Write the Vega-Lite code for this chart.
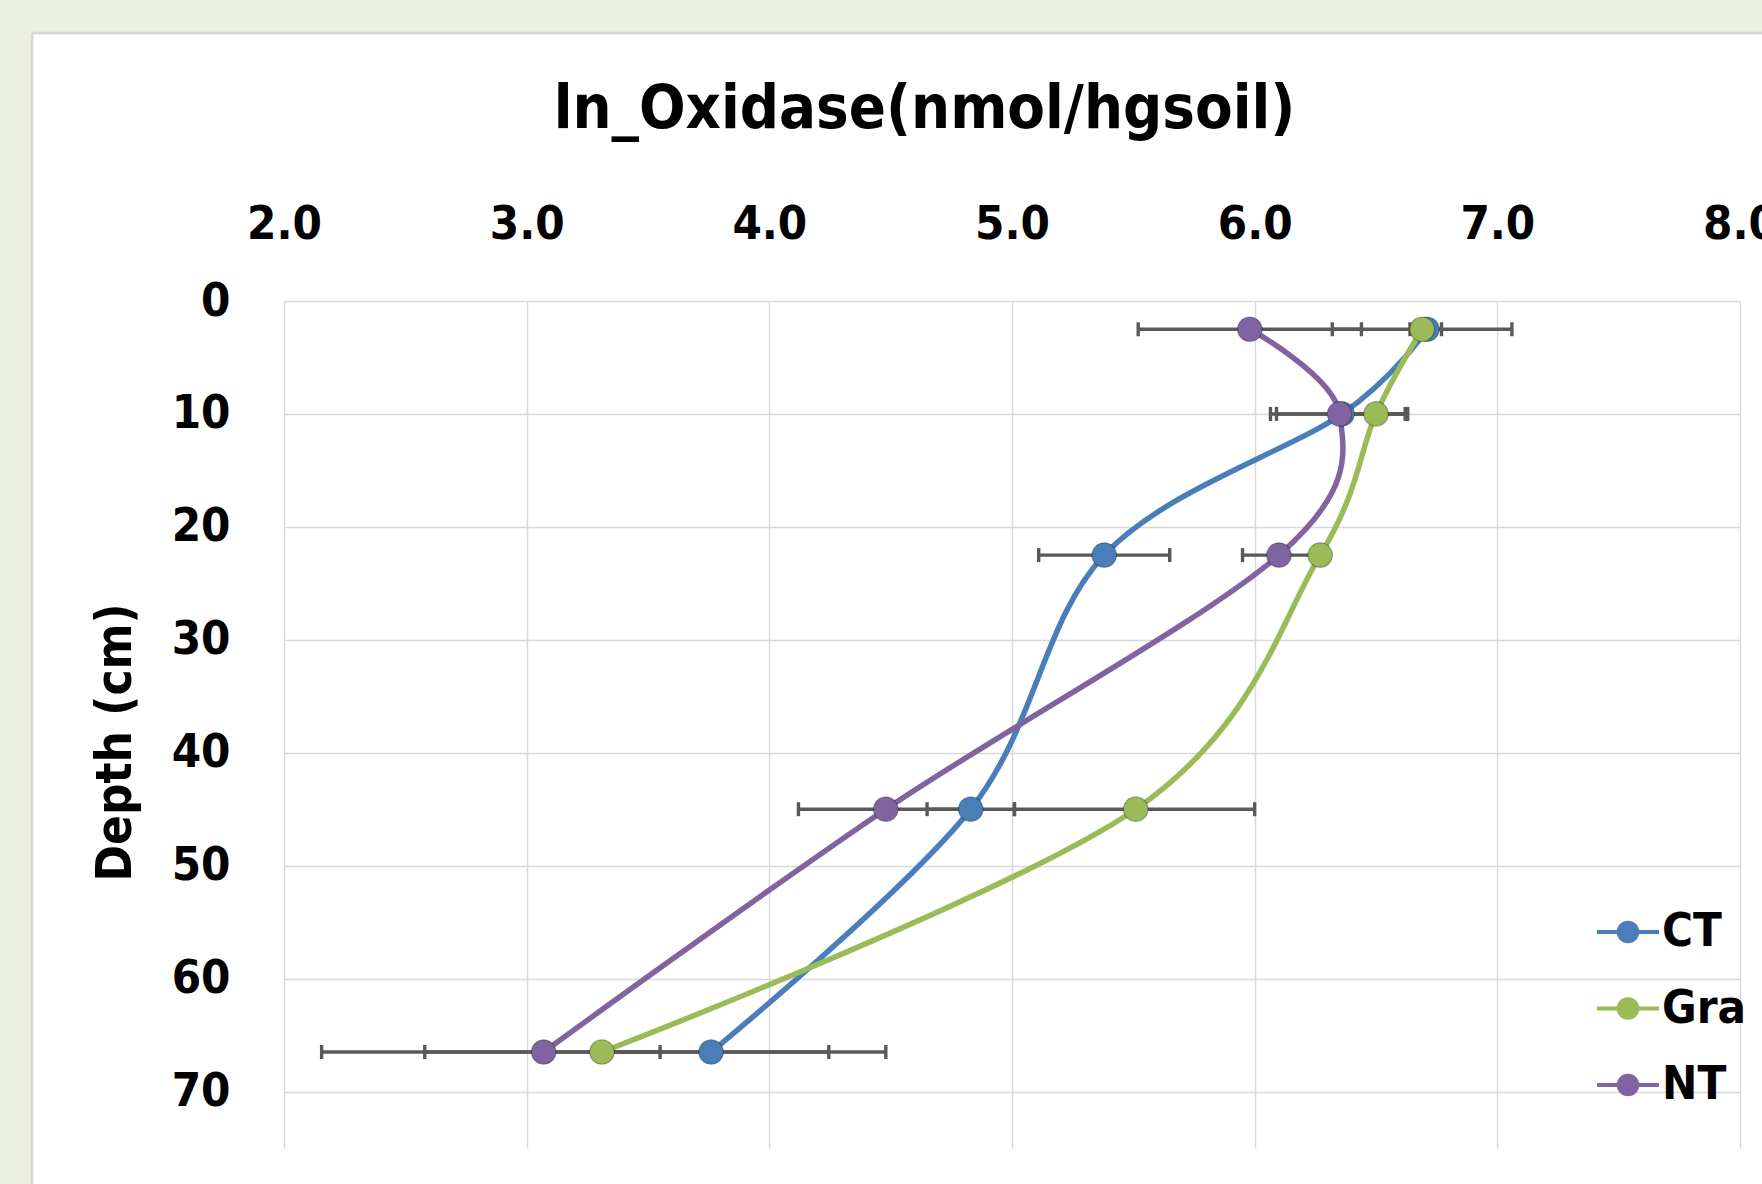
{
  "$schema": "https://vega.github.io/schema/vega-lite/v6.json",
  "autosize": {"type": "none"},
  "width": 1456,
  "height": 847,
  "padding": {"left": 284, "top": 301, "right": 22, "bottom": 36},
  "background": "#FFFFFF",
  "config": {
    "font": "DejaVu Sans Condensed, sans-serif",
    "view": {"stroke": null},
    "axis": {"labelFont": "DejaVu Sans Condensed, sans-serif", "titleFont": "DejaVu Sans Condensed, sans-serif"},
    "legend": {"labelFont": "DejaVu Sans Condensed, sans-serif"}
  },
  "datasets": {
    "means": [
      {"series": "CT", "depth": 2.5, "value": 6.71},
      {"series": "CT", "depth": 10, "value": 6.36},
      {"series": "CT", "depth": 22.5, "value": 5.38},
      {"series": "CT", "depth": 45, "value": 4.83},
      {"series": "CT", "depth": 66.5, "value": 3.76},
      {"series": "Gra", "depth": 2.5, "value": 6.69},
      {"series": "Gra", "depth": 10, "value": 6.5},
      {"series": "Gra", "depth": 22.5, "value": 6.27},
      {"series": "Gra", "depth": 45, "value": 5.51},
      {"series": "Gra", "depth": 66.5, "value": 3.31},
      {"series": "NT", "depth": 2.5, "value": 5.98},
      {"series": "NT", "depth": 10, "value": 6.35},
      {"series": "NT", "depth": 22.5, "value": 6.1},
      {"series": "NT", "depth": 45, "value": 4.48},
      {"series": "NT", "depth": 66.5, "value": 3.07}
    ],
    "errors": [
      {"series": "CT", "depth": 2.5, "lo": 6.32, "hi": 7.06},
      {"series": "CT", "depth": 10, "lo": 6.09, "hi": 6.63},
      {"series": "CT", "depth": 22.5, "lo": 5.11, "hi": 5.65},
      {"series": "CT", "depth": 45, "lo": 4.65, "hi": 5.01},
      {"series": "CT", "depth": 66.5, "lo": 3.28, "hi": 4.245},
      {"series": "Gra", "depth": 2.5, "lo": 6.64, "hi": 6.77},
      {"series": "Gra", "depth": 10, "lo": 6.38, "hi": 6.62},
      {"series": "Gra", "depth": 22.5, "lo": 6.24, "hi": 6.3},
      {"series": "Gra", "depth": 45, "lo": 5.01, "hi": 6.0},
      {"series": "Gra", "depth": 66.5, "lo": 2.155, "hi": 4.48},
      {"series": "NT", "depth": 2.5, "lo": 5.52, "hi": 6.44},
      {"series": "NT", "depth": 10, "lo": 6.065, "hi": 6.63},
      {"series": "NT", "depth": 22.5, "lo": 5.95, "hi": 6.25},
      {"series": "NT", "depth": 45, "lo": 4.12, "hi": 4.84},
      {"series": "NT", "depth": 66.5, "lo": 2.58, "hi": 3.55}
    ]
  },
  "layer": [
    {
      "data": {"values": [{}]},
      "mark": {"type": "rect", "color": "#EBF0DF"},
      "encoding": {
        "x": {"datum": -1, "type": "quantitative", "scale": {"domain": [2, 8], "nice": false, "zero": false}},
        "x2": {"datum": 0.962},
        "y": {"datum": -40, "type": "quantitative", "scale": {"domain": [0, 75], "reverse": true, "nice": false, "zero": false}},
        "y2": {"datum": 100}
      }
    },
    {
      "data": {"values": [{}]},
      "mark": {"type": "rect", "color": "#EBF0DF"},
      "encoding": {
        "x": {"datum": -1, "type": "quantitative"},
        "x2": {"datum": 10},
        "y": {"datum": -40, "type": "quantitative"},
        "y2": {"datum": -23.73}
      }
    },
    {
      "data": {"values": [{}]},
      "mark": {"type": "rule", "color": "#D6D6D6", "strokeWidth": 2.5},
      "encoding": {
        "x": {"datum": 0.962, "type": "quantitative"},
        "x2": {"datum": 10},
        "y": {"datum": -23.73, "type": "quantitative"}
      }
    },
    {
      "data": {"values": [{}]},
      "mark": {"type": "rule", "color": "#D6D6D6", "strokeWidth": 2.5},
      "encoding": {
        "x": {"datum": 0.962, "type": "quantitative"},
        "y": {"datum": -23.73, "type": "quantitative"},
        "y2": {"datum": 100}
      }
    },
    {
      "data": {"name": "errors"},
      "mark": {"type": "rule", "color": "#595959", "strokeWidth": 3.4},
      "encoding": {
        "x": {"field": "lo", "type": "quantitative"},
        "x2": {"field": "hi"},
        "y": {"field": "depth", "type": "quantitative"}
      }
    },
    {
      "data": {"name": "errors"},
      "mark": {"type": "tick", "orient": "vertical", "color": "#595959", "size": 14, "thickness": 3.4, "opacity": 1},
      "encoding": {
        "x": {"field": "lo", "type": "quantitative"},
        "y": {"field": "depth", "type": "quantitative"}
      }
    },
    {
      "data": {"name": "errors"},
      "mark": {"type": "tick", "orient": "vertical", "color": "#595959", "size": 14, "thickness": 3.4, "opacity": 1},
      "encoding": {
        "x": {"field": "hi", "type": "quantitative"},
        "y": {"field": "depth", "type": "quantitative"}
      }
    },
    {
      "data": {"name": "means"},
      "mark": {"type": "line", "interpolate": "cardinal", "strokeWidth": 5.5},
      "encoding": {
        "x": {
          "field": "value", "type": "quantitative",
          "axis": {
            "orient": "top", "values": [2, 3, 4, 5, 6, 7, 8], "format": ".1f",
            "grid": true, "gridColor": "#D9D9D9", "gridWidth": 1.5,
            "domain": false, "ticks": false,
            "labelFontSize": 47, "labelFontWeight": "bold", "labelColor": "#000000",
            "labelBaseline": "alphabetic", "labelPadding": 63, "labelFlush": false, "labelOverlap": false,
            "title": "ln_Oxidase(nmol/hgsoil)", "titleFontSize": 61, "titleFontWeight": "bold", "titleColor": "#000000",
            "titleX": 640, "titleY": -174, "titleBaseline": "alphabetic", "titleAlign": "center"
          }
        },
        "y": {
          "field": "depth", "type": "quantitative",
          "axis": {
            "orient": "left", "values": [0, 10, 20, 30, 40, 50, 60, 70],
            "grid": true, "gridColor": "#D9D9D9", "gridWidth": 1.5,
            "domain": false, "ticks": false,
            "labelFontSize": 47, "labelFontWeight": "bold", "labelColor": "#000000",
            "labelPadding": 54, "labelFlush": false, "labelOverlap": false, "labelBaseline": "middle",
            "title": "Depth (cm)", "titleFontSize": 49, "titleFontWeight": "bold", "titleColor": "#000000",
            "titleX": -169, "titleY": 441, "titleBaseline": "middle", "titleAlign": "center", "titleAngle": -90
          }
        },
        "color": {
          "field": "series", "type": "nominal",
          "scale": {"domain": ["CT", "Gra", "NT"], "range": ["#4A7EBB", "#9BBB59", "#8064A2"]},
          "legend": {
            "orient": "none", "legendX": 1311, "legendY": 598, "title": null, "padding": 0,
            "symbolType": "M-1,0H1M0.3,0A0.3,0.3,0,1,1,-0.3,0A0.3,0.3,0,1,1,0.3,0Z",
            "symbolSize": 3844, "symbolStrokeWidth": 4,
            "labelFontSize": 47, "labelFontWeight": "bold", "labelColor": "#000000", "labelOffset": 1,
            "rowPadding": 20.5,
            "encode": {"symbols": {"update": {"fill": {"scale": "color", "field": "value"}, "stroke": {"scale": "color", "field": "value"}, "opacity": {"value": 1}}}}
          }
        },
        "order": {"field": "depth", "type": "quantitative"}
      }
    },
    {
      "data": {"name": "means"},
      "mark": {"type": "point", "shape": "circle", "filled": true, "size": 600, "opacity": 1, "stroke": "#000000", "strokeOpacity": 0.3, "strokeWidth": 1.2},
      "encoding": {
        "x": {"field": "value", "type": "quantitative"},
        "y": {"field": "depth", "type": "quantitative"},
        "fill": {"field": "series", "type": "nominal", "scale": {"domain": ["CT", "Gra", "NT"], "range": ["#4A7EBB", "#9BBB59", "#8064A2"]}, "legend": null}
      }
    }
  ]
}
